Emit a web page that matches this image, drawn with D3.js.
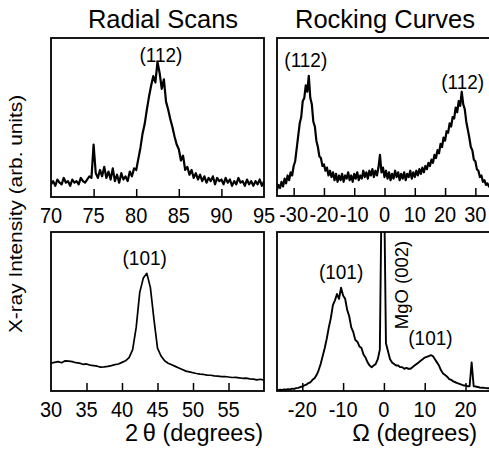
<!DOCTYPE html>
<html lang="en">
<head>
<meta charset="utf-8">
<title>Radial Scans / Rocking Curves</title>
<script src="https://d3js.org/d3.v7.min.js"></script>
<style>
body { margin: 0; background: #fff; }
text { font-family: "Liberation Sans", Arial, Helvetica, sans-serif; fill: #000; }
</style>
</head>
<body>
<script>
// Radial scan (112): 2theta from 70 to 95, step 0.25
const radial112Start = 70, radial112Step = 0.25;
const radial112 = [
  0.08,0.10,0.07,0.11,0.09,0.08,0.12,0.09,0.10,0.07,0.11,0.09,0.10,0.08,0.12,0.10,0.09,0.11,0.13,0.12,
  0.33,0.15,0.12,0.17,0.13,0.19,0.12,0.16,0.11,0.18,0.10,0.14,0.09,0.15,0.11,0.13,0.10,0.16,0.13,0.18,
  0.17,0.24,0.31,0.40,0.46,0.55,0.63,0.70,0.76,0.72,0.85,0.78,0.68,0.74,0.60,0.55,0.49,0.44,0.38,0.33,
  0.30,0.23,0.26,0.17,0.19,0.14,0.17,0.12,0.15,0.11,0.14,0.10,0.13,0.09,0.12,0.10,0.13,0.08,0.12,0.10,
  0.11,0.08,0.12,0.09,0.11,0.07,0.10,0.08,0.12,0.09,0.10,0.07,0.11,0.08,0.10,0.07,0.10,0.08,0.11,0.07,
  0.10
];

// Rocking curve (112): Omega from -35.5 to 35, step 0.5
const rock112Start = -35.5, rock112Step = 0.5;
const rock112 = [
  0.04,0.07,0.05,0.09,0.06,0.11,0.08,0.13,0.10,0.15,0.13,0.19,0.22,0.30,0.38,0.46,0.50,0.60,0.62,0.70,
  0.66,0.76,0.62,0.58,0.47,0.44,0.35,0.31,0.25,0.24,0.19,0.20,0.16,0.18,0.13,0.16,0.12,0.15,0.10,0.14,
  0.09,0.13,0.10,0.14,0.09,0.13,0.11,0.15,0.10,0.13,0.09,0.14,0.11,0.15,0.10,0.13,0.11,0.16,0.12,0.15,
  0.11,0.16,0.13,0.17,0.12,0.16,0.13,0.18,0.26,0.15,0.18,0.12,0.16,0.11,0.15,0.10,0.14,0.11,0.16,0.12,
  0.15,0.10,0.14,0.11,0.15,0.10,0.14,0.12,0.16,0.11,0.15,0.12,0.16,0.13,0.17,0.14,0.18,0.15,0.19,0.17,
  0.21,0.19,0.23,0.21,0.26,0.24,0.29,0.27,0.33,0.31,0.37,0.35,0.41,0.40,0.46,0.44,0.50,0.49,0.56,0.53,
  0.60,0.57,0.66,0.58,0.55,0.47,0.42,0.37,0.31,0.29,0.23,0.22,0.17,0.16,0.12,0.13,0.09,0.10,0.07,0.08,
  0.06,0.07
];

// Radial scan (101): 2theta from 30 to 60, step 0.5
const radial101Start = 30, radial101Step = 0.5;
const radial101 = [
  0.175,0.18,0.185,0.178,0.19,0.188,0.185,0.178,0.175,0.168,0.17,0.163,0.16,0.156,0.15,0.152,0.155,0.16,0.166,0.17,
  0.18,0.19,0.21,0.26,0.40,0.62,0.71,0.74,0.65,0.45,0.27,0.22,0.19,0.175,0.165,0.155,0.145,0.135,0.125,0.12,
  0.115,0.11,0.106,0.104,0.10,0.099,0.095,0.094,0.09,0.091,0.088,0.085,0.086,0.083,0.08,0.081,0.076,0.075,0.07,0.074,
  0.068
];

// Rocking curve (101) with MgO (002): Omega from -26 to 26, step 0.5
const rock101Start = -26, rock101Step = 0.5;
const rock101 = [
  0.005,0.008,0.006,0.01,0.008,0.012,0.01,0.015,0.013,0.018,0.02,0.025,0.028,0.035,0.04,0.05,0.055,0.07,0.08,0.10,
  0.13,0.17,0.22,0.27,0.33,0.40,0.46,0.54,0.57,0.61,0.58,0.65,0.60,0.58,0.51,0.47,0.40,0.37,0.32,0.31,
  0.28,0.27,0.23,0.21,0.18,0.16,0.15,0.16,0.17,0.20,0.26,1.4,1.4,0.30,0.25,0.20,0.18,0.17,0.16,0.16,
  0.15,0.15,0.14,0.145,0.14,0.14,0.15,0.16,0.17,0.18,0.19,0.20,0.21,0.215,0.22,0.225,0.22,0.20,0.18,0.16,
  0.13,0.11,0.10,0.09,0.075,0.07,0.06,0.055,0.05,0.045,0.04,0.035,0.035,0.03,0.03,0.18,0.03,0.028,0.025,0.022,
  0.02,0.02,0.018,0.017,0.017
];

const radial112Ticks = [70, 75, 80, 85, 90, 95];
const rock112Ticks = [-30, -20, -10, 0, 10, 20, 30];
const radial101Ticks = [30, 35, 40, 45, 50, 55];
const rock101Ticks = [-20, -10, 0, 10, 20];

const w = 489, h = 451;

const svg = d3.select("body").append("svg")
  .attr("width", w)
  .attr("height", h);

svg.append("rect").attr("width", w).attr("height", h).attr("fill", "#fff");

// text helper: sy stretches glyphs vertically (or along the line when rotated)
function label(x, y, str, size, anchor, sy, rot) {
  return svg.append("text")
    .attr("transform", "translate(" + x + "," + y + ")" + (rot ? " rotate(" + rot + ")" : "") + " scale(" + (rot ? sy + ",1" : "1," + sy) + ")")
    .attr("text-anchor", anchor || "middle")
    .style("font-size", size + "px")
    .text(str);
}

function panel(id, vals, start, step, xDomain, xRange, yRange, ticks, tickLabels, sw) {
  const x = d3.scaleLinear().domain(xDomain).range(xRange);
  const y = d3.scaleLinear().domain([0, 1]).range(yRange);

  svg.append("clipPath").attr("id", id)
    .append("rect")
    .attr("x", xRange[0]).attr("y", yRange[1])
    .attr("width", xRange[1] - xRange[0]).attr("height", yRange[0] - yRange[1]);

  const line = d3.line()
    .x((d, i) => x(start + i * step))
    .y(d => y(d));

  svg.append("path")
    .datum(vals)
    .attr("clip-path", "url(#" + id + ")")
    .attr("fill", "none")
    .attr("stroke", "#000")
    .attr("stroke-width", sw)
    .attr("stroke-linejoin", "round")
    .attr("d", line);

  // ticks inside, from the bottom edge
  const g = svg.append("g").attr("transform", "translate(0," + yRange[0] + ")");
  g.call(d3.axisBottom(x).tickValues(ticks).tickSize(-8).tickFormat(""))
    .call(a => a.select(".domain").remove())
    .call(a => a.selectAll("line").attr("stroke-width", 1.5));

  tickLabels.forEach(t => label(x(t), yRange[0] + 26, String(t), 20, "middle", 1.12));

  svg.append("rect")
    .attr("x", xRange[0]).attr("y", yRange[1])
    .attr("width", xRange[1] - xRange[0]).attr("height", yRange[0] - yRange[1])
    .attr("fill", "none").attr("stroke", "#000").attr("stroke-width", 1.8);
  return {x, y};
}

const pTL = panel("c1", radial112, radial112Start, radial112Step, [70, 95], [51, 264], [197, 38], [75, 80, 85, 90], radial112Ticks, 2.2);
const pTR = panel("c2", rock112, rock112Start, rock112Step, [-35.5, 35], [277, 490.5], [196, 38], rock112Ticks, rock112Ticks, 2.2);
const pBL = panel("c3", radial101, radial101Start, radial101Step, [30, 60], [51, 264], [391, 232], [35, 40, 45, 50, 55], radial101Ticks, 1.7);
const pBR = panel("c4", rock101, rock101Start, rock101Step, [-26.2, 26], [277, 490], [391, 232], rock101Ticks, rock101Ticks, 1.9);

// titles
label(163, 28, "Radial Scans", 25.5, "middle", 1);
label(385, 28, "Rocking Curves", 25.5, "middle", 1);

// peak annotations
label(pTL.x(82.9), 62, "(112)", 19, "middle", 1.1);
label(pTR.x(-26), 67, "(112)", 19, "middle", 1.1);
label(pTR.x(25.8), 89, "(112)", 19, "middle", 1.1);
label(pBL.x(43.2), 265, "(101)", 19, "middle", 1.1);
label(pBR.x(-10.5), 279, "(101)", 19, "middle", 1.1);
label(pBR.x(11.4), 345, "(101)", 19, "middle", 1.1);
label(408, 285, "MgO (002)", 18.5, "middle", 1, -90);

// axis titles
label(22, 214, "X-ray Intensity (arb. units)", 17.5, "middle", 1.19, -90);
label(263, 441, "2\u2009\u03b8 (degrees)", 23.5, "end", 1);
label(477, 441, "\u03a9  (degrees)", 23.5, "end", 1);
</script>
</body>
</html>
